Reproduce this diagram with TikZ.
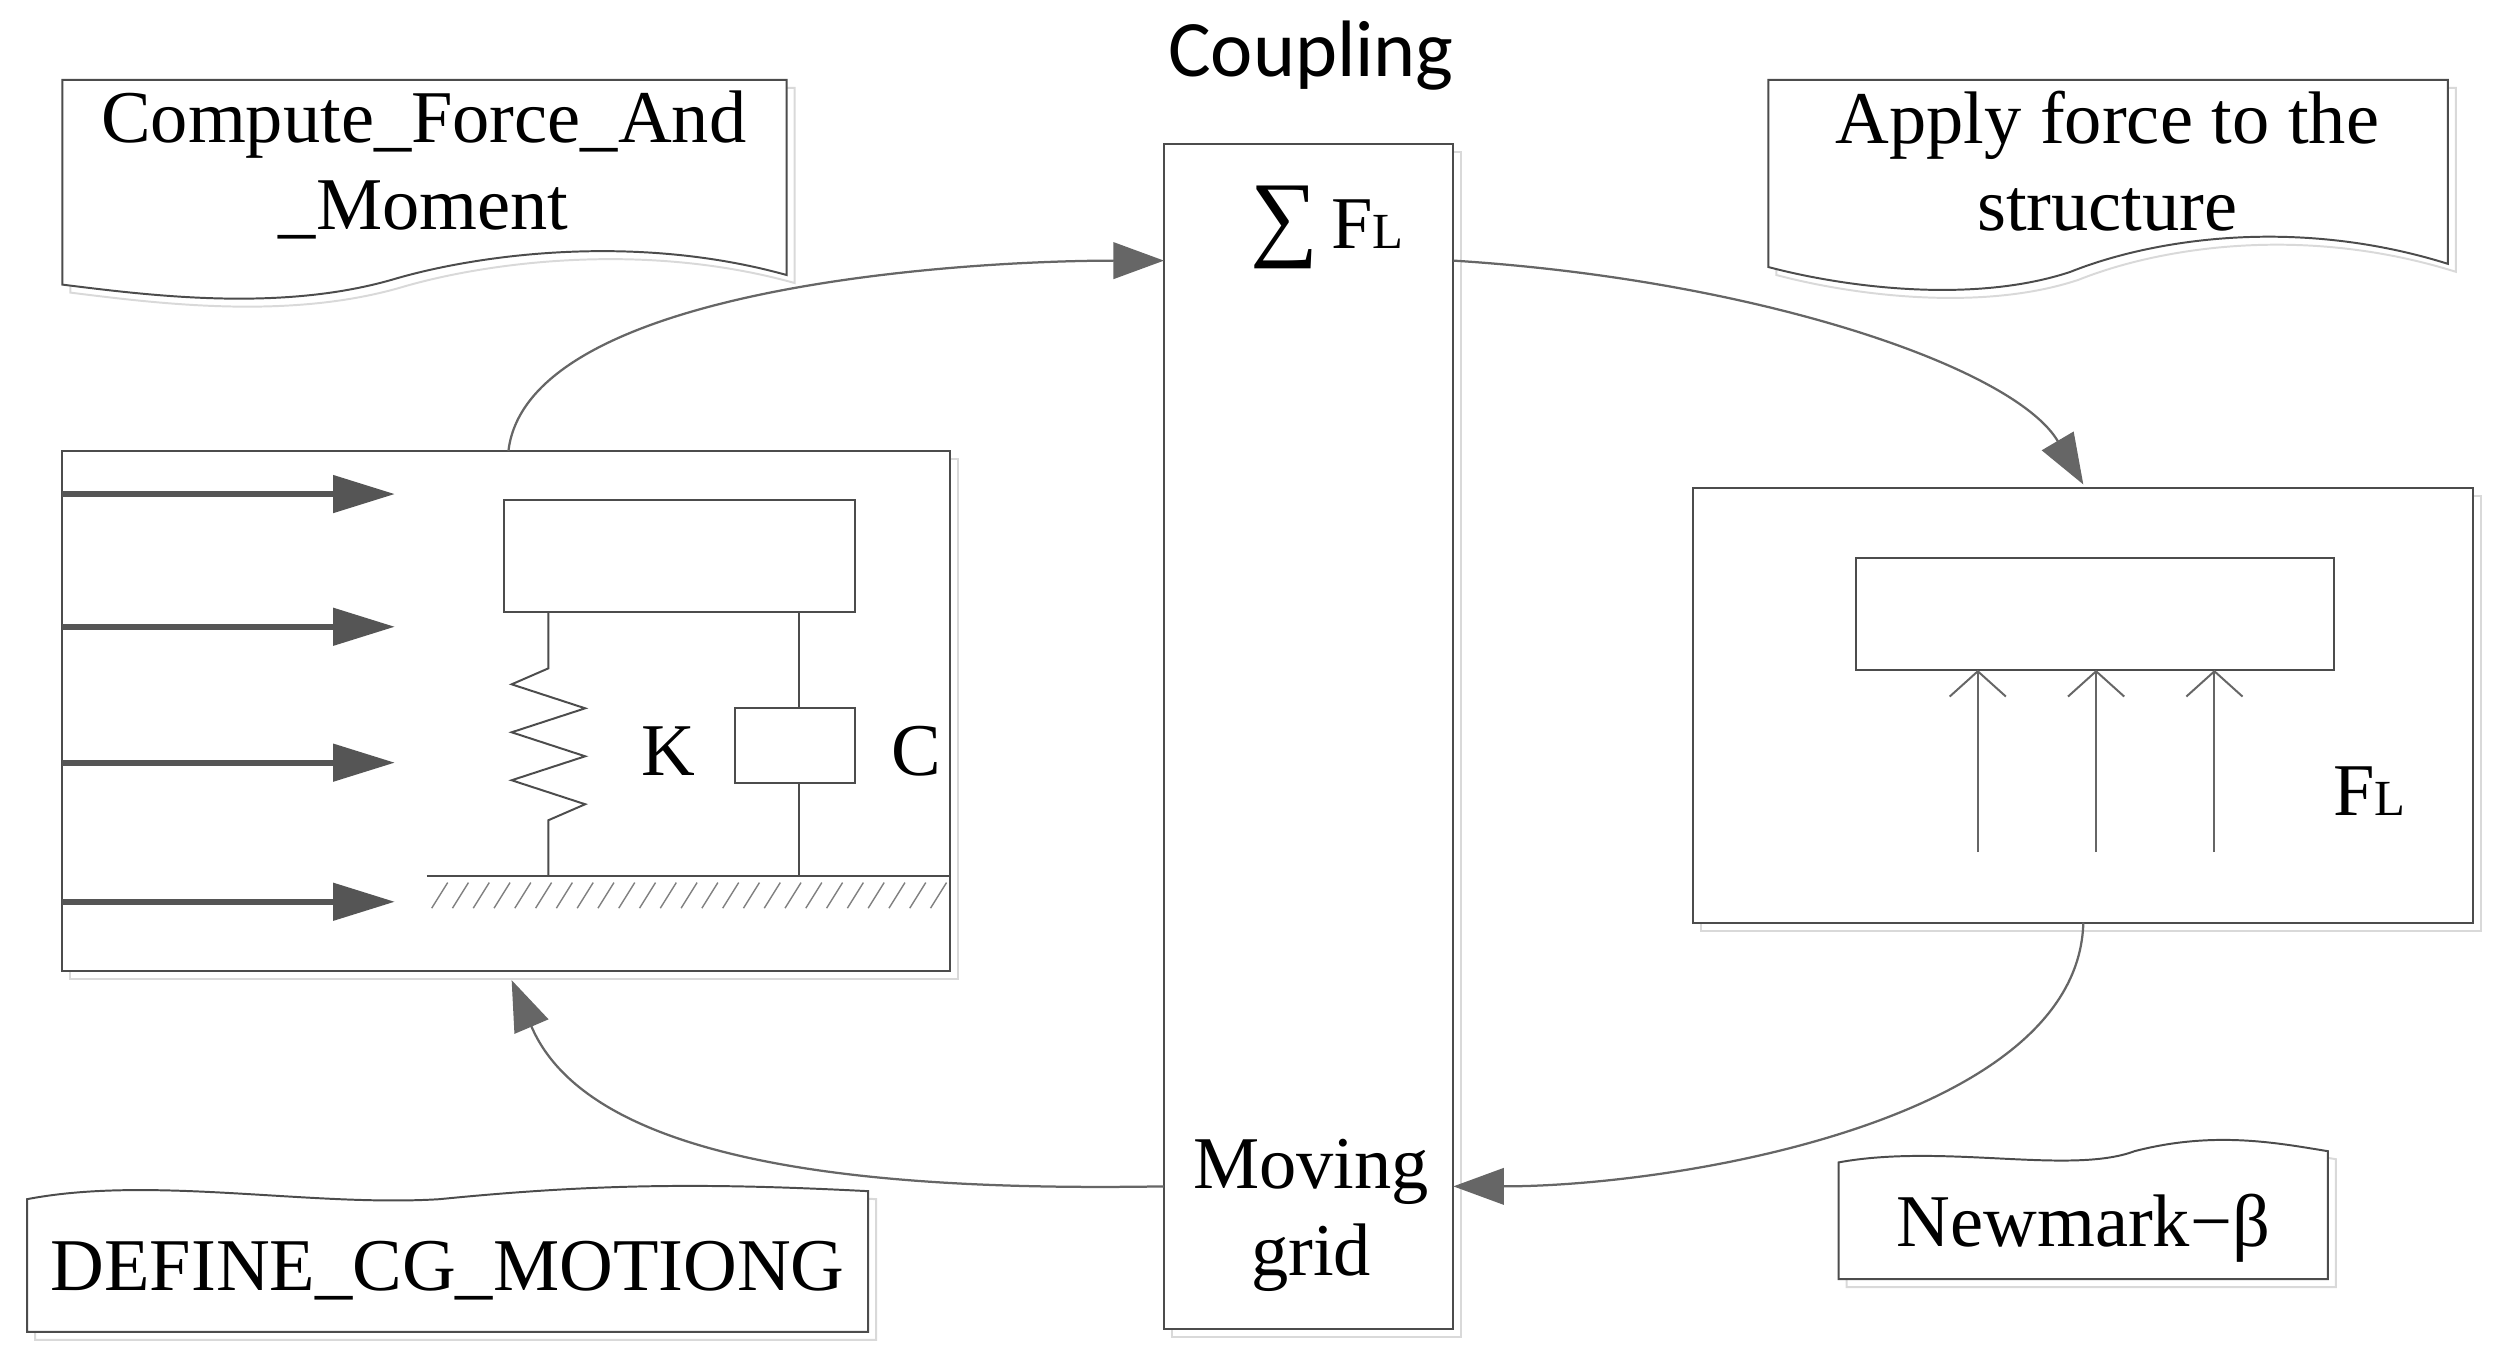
\documentclass[tikz,border=0pt]{standalone}
\usepackage{fontspec}
\setmainfont{Liberation Serif}
\newfontfamily\coupfont{Carlito}
\usetikzlibrary{arrows.meta,decorations.pathmorphing}
\definecolor{dk}{HTML}{555555}
\begin{document}
\begin{tikzpicture}[x=0.02cm,y=-0.02cm,line width=0.7pt,
  box/.style={draw=black!70},
  shad/.style={draw=black!15},
  txt/.style={font=\fontsize{26.5}{31}\selectfont,align=center,inner sep=0},
  thick arr/.style={line width=2.2pt,draw=dk,-{Triangle[length=22pt,width=13pt]}}]
\useasboundingbox (0,0) rectangle (1568,853);
% coupling box
\draw[shad] (733,95) rectangle (914,836);
\draw[box,fill=white] (728,90) rectangle (909,831);
\node[txt,font=\coupfont\fontsize{28.5}{32}\selectfont] (cpl) at (820,35) {Coupling};
\node[txt] (sum) at (830,142) {{\fontsize{34}{34}\selectfont ∑}\,F\fontsize{18}{20}\selectfont L};
\node[txt] (mg) at (820,760) {Moving\\grid};
% left box
\draw[shad] (44,287) rectangle (599,612);
\draw[box,fill=white] (39,282) rectangle (594,607);
\foreach \y in {309,392,477,564} \draw[thick arr] (39,\y) -- (247,\y);
\draw[box] (315,313) rectangle (535,383);
\draw[box] (343,383) -- (343,418) -- (320,428) -- (366,443) -- (320,458) -- (366,473) -- (320,488) -- (366,503) -- (343,513) -- (343,548);
\draw[box] (500,383) -- (500,443) (500,490) -- (500,548);
\draw[box] (460,443) rectangle (535,490);
\node[txt] (K) at (418,470) {K};
\node[txt] (C) at (573,470) {C};
\draw[box] (267,548) -- (594,548);
\foreach \x in {270,283,...,585} \draw[black!50,line width=0.5pt] (\x+10,552) -- (\x,568);
% right box
\draw[shad] (1064,310) rectangle (1552,582);
\draw[box,fill=white] (1059,305) rectangle (1547,577);
\draw[box] (1161,349) rectangle (1460,419);
\foreach \x in {1237,1311,1385} \draw[black!60,-{Straight Barb[length=9pt,width=20pt]}] (\x,533) -- (\x,419);
\node[txt] (FL) at (1482,495) {F\fontsize{18}{20}\selectfont L};
% documents
\draw[shad] (44,55) -- (497,55) -- (497,177) .. controls (400,150) and (300,165) .. (250,180) .. controls (180,200) and (100,190) .. (44,183) -- cycle;
\draw[box,fill=white] (39,50) -- (492,50) -- (492,172) .. controls (395,145) and (295,160) .. (245,175) .. controls (175,195) and (95,185) .. (39,178) -- cycle;
\node[txt] (d1) at (265,103) {Compute\_Force\_And\\\_Moment};
\draw[shad] (1111,55) -- (1536,55) -- (1536,170) .. controls (1440,140) and (1350,155) .. (1300,175) .. controls (1240,195) and (1160,185) .. (1111,172) -- cycle;
\draw[box,fill=white] (1106,50) -- (1531,50) -- (1531,165) .. controls (1435,135) and (1345,150) .. (1295,170) .. controls (1235,190) and (1155,180) .. (1106,167) -- cycle;
\node[txt] (d2) at (1318,101) {Apply force to the\\structure};
\draw[shad] (22,755) .. controls (100,740) and (200,760) .. (280,755) .. controls (380,745) and (450,745) .. (548,750) -- (548,838) -- (22,838) -- cycle;
\draw[box,fill=white] (17,750) .. controls (95,735) and (195,755) .. (275,750) .. controls (375,740) and (445,740) .. (543,745) -- (543,833) -- (17,833) -- cycle;
\node[txt] (d3) at (280,795) {DEFINE\_CG\_MOTIONG};
\draw[shad] (1155,732) .. controls (1220,720) and (1300,740) .. (1340,725) .. controls (1390,712) and (1430,720) .. (1461,725) -- (1461,805) -- (1155,805) -- cycle;
\draw[box,fill=white] (1150,727) .. controls (1215,715) and (1295,735) .. (1335,720) .. controls (1385,707) and (1425,715) .. (1456,720) -- (1456,800) -- (1150,800) -- cycle;
\node[txt] (d4) at (1303,768) {Newmark−β};
% connectors
\coordinate (a1) at (318,282); \coordinate (a2) at (728,163);
\coordinate (b1) at (909,163); \coordinate (b2) at (1303,303);
\coordinate (c1) at (1303,577); \coordinate (c2) at (909,742);
\coordinate (e1) at (728,742); \coordinate (e2) at (320,613);
\draw[black!60,-{Triangle[length=18pt,width=13pt]},line width=0.8pt] (a1) .. controls (330,180) and (600,163) .. (a2);
\draw[black!60,-{Triangle[length=18pt,width=13pt]},line width=0.8pt] (b1) .. controls (1100,175) and (1260,230) .. (b2);
\draw[black!60,-{Triangle[length=18pt,width=13pt]},line width=0.8pt] (c1) .. controls (1300,700) and (1050,742) .. (c2);
\draw[black!60,-{Triangle[length=18pt,width=13pt]},line width=0.8pt] (e1) .. controls (550,745) and (370,730) .. (e2);
\end{tikzpicture}
\end{document}
